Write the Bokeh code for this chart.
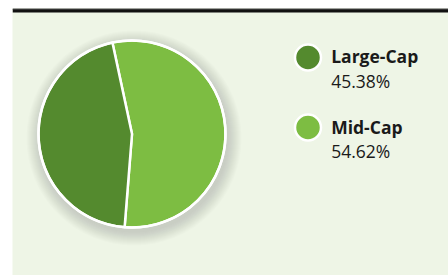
import math
from bokeh.plotting import figure
from bokeh.models import Range1d, ColumnDataSource
from bokeh.core.properties import value
from bokeh.embed import file_html
from bokeh.resources import INLINE

# data
categories = ["Large-Cap", "Mid-Cap"]
shares = [45.38, 54.62]
labels = ["45.38%", "54.62%"]
colors = ["#548A2E", "#7DBD42"]

W, H = 436, 267
p = figure(width=W + 12, height=H + 8, output_backend="svg", toolbar_location=None,
           x_range=Range1d(0, W), y_range=Range1d(0, H),
           min_border_left=12, min_border_right=0, min_border_top=8, min_border_bottom=0)
p.axis.visible = False
p.grid.visible = False
p.outline_line_color = None
p.background_fill_color = "#EEF5E6"
p.border_fill_color = "white"

# top bar
p.quad(left=0, right=W, bottom=H - 4, top=H, fill_color="#111111", line_color=None)
p.quad(left=0, right=W, bottom=H - 1, top=H, fill_color="#555555", line_color=None)

cx, cy, r = 119.5, 141.5, 93.5

# soft shadow
for i in range(14):
    rr = r + 14 - i
    p.circle(x=cx + 2, y=cy - 4, radius=rr, fill_color="#7a8270",
             fill_alpha=0.025, line_color=None)

# pie (clockwise, Mid-Cap starting slightly left of top)
total = sum(shares)
start = math.radians(102.1)
order = [1, 0]
a = start
wd = dict(start=[], end=[], color=[])
for idx in order:
    span = shares[idx] / total * 2 * math.pi
    wd["start"].append(a)
    wd["end"].append(a - span)
    wd["color"].append(colors[idx])
    a -= span
src = ColumnDataSource(wd)
p.wedge(x=cx, y=cy, radius=r, start_angle="start", end_angle="end",
        direction="clock", fill_color="color", line_color="white",
        line_width=2.5, source=src)
p.circle(x=cx, y=cy, radius=r, fill_color=None, line_color="white", line_width=2.5)

# legend
lx = 295.5
ly = [275 - 57, 275 - 127]
tx = 318.7
for i in range(2):
    p.scatter(x=[lx], y=[ly[i]], size=26, marker="circle",
              fill_color=colors[i], line_color="white", line_width=2.5)
    p.text(x=[tx], y=[275 - 55.5 - 70.5 * i], text=[categories[i]],
           text_font=value("Open Sans"), text_font_style="bold",
           text_font_size="17.5px", text_color="#1a1a1a", text_baseline="alphabetic")
    p.text(x=[tx], y=[275 - 80 - 70 * i], text=[labels[i]],
           text_font=value("Open Sans"), text_font_size="17.5px",
           text_color="#1a1a1a", text_baseline="alphabetic")

open("out.html", "w").write(file_html(p, INLINE))
